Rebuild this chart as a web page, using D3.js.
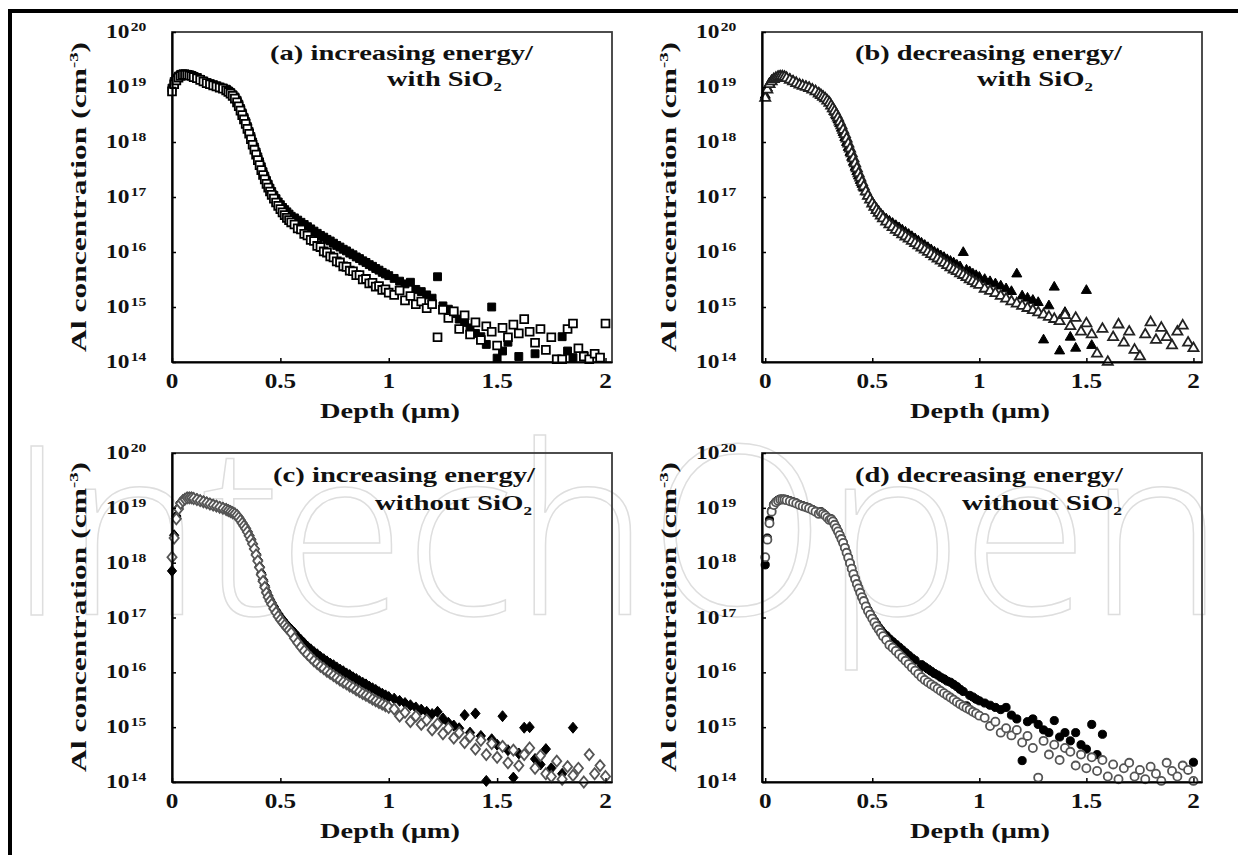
<!DOCTYPE html>
<html><head><meta charset="utf-8">
<script src="https://cdn.jsdelivr.net/npm/d3@7"></script>
<style>
body{margin:0;background:#fff}
svg{display:block}
text{font-family:"Liberation Serif","DejaVu Serif",serif;font-weight:bold;fill:#111}
</style>
</head><body>
<svg id="chart" width="1238" height="855"></svg>
<script>
// ---------- data (depth in µm, concentration as log10 exponent) ----------
const depth = [0,0.01,0.02,0.03,0.04,0.05,0.06,0.07,0.08,0.09,0.1,
 0.115,0.13,0.145,0.16,0.175,0.19,0.205,0.22,0.235,0.25,
 0.26,0.27,0.28,0.29,0.3,
 0.308,0.316,0.324,0.332,0.34,0.348,0.356,0.364,0.372,0.38,0.388,0.396,0.404,0.412,0.42,0.428,0.436,0.444,0.452,0.46,
 0.47,0.48,0.49,0.5,0.51,0.52,0.53,0.54,0.55,
 0.565,0.58,0.595,0.61,0.625,0.64,0.655,0.67,0.685,0.7,0.715,0.73,0.745,0.76,0.775,0.79,0.805,0.82,0.835,0.85,0.865,0.88,0.895,0.91,0.925,0.94,0.955,0.97,0.985,1.0,
 1.025,1.05,1.075,1.1,1.125,1.15,1.175,1.2,1.225,1.25,1.275,1.3,1.325,1.35,1.375,1.4,1.425,1.45,1.475,1.5,
 1.525,1.55,1.575,1.6,1.625,1.65,1.675,1.7,1.725,1.75,1.775,1.8,1.825,1.85,1.875,1.9,1.925,1.95,1.975,2.0];

const aFilled = [18.98,19.1,19.16,19.2,19.23,19.24,19.24,19.23,19.22,19.21,19.19,
 19.17,19.14,19.11,19.08,19.06,19.04,19.02,19.0,18.98,18.96,
 18.93,18.9,18.86,18.82,18.76,
 18.69,18.61,18.53,18.45,18.37,18.28,18.19,18.1,18.0,17.91,17.82,17.73,17.64,17.55,17.46,17.38,17.3,17.23,17.16,17.1,
 17.03,16.97,16.91,16.86,16.81,16.77,16.73,16.69,16.65,
 16.62,16.58,16.54,16.5,16.46,16.42,16.38,16.34,16.3,16.27,16.23,16.2,16.16,16.12,16.09,16.05,16.02,15.98,15.95,15.91,15.88,15.84,15.81,15.77,15.74,15.7,15.67,15.63,15.6,15.57,
 15.52,15.47,15.42,15.45,15.32,15.28,15.22,15.16,15.55,15.02,14.96,14.88,14.78,14.72,14.62,14.52,14.46,14.32,15.0,14.07,
 14.2,14.36,null,14.1,null,null,14.15,null,null,null,14.05,14.46,14.2,14.08,null,14.12,null,null,null,null];
const aOpen = [18.92,19.05,19.12,19.17,19.2,19.22,19.22,19.22,19.21,19.2,19.18,
 19.16,19.13,19.1,19.07,19.05,19.03,19.01,18.99,18.97,18.94,
 18.91,18.88,18.84,18.79,18.72,
 18.65,18.57,18.49,18.41,18.33,18.24,18.15,18.05,17.95,17.86,17.77,17.67,17.58,17.49,17.4,17.32,17.24,17.17,17.1,17.04,
 16.97,16.9,16.84,16.78,16.72,16.67,16.62,16.58,16.54,
 16.5,16.43,16.41,16.33,16.3,16.22,16.2,16.11,16.09,16.01,15.99,15.92,15.9,15.83,15.81,15.74,15.73,15.66,15.65,15.58,15.58,15.5,15.51,15.43,15.44,15.37,15.38,15.31,15.32,15.26,
 15.22,15.3,15.12,15.2,15.05,15.1,14.98,15.05,14.45,14.95,14.8,14.92,14.6,14.85,14.5,14.72,14.4,14.65,14.55,14.3,
 14.62,14.45,14.68,14.52,14.78,14.55,14.35,14.6,14.22,14.45,14.05,14.05,14.6,14.7,14.25,14.1,14.05,14.15,14.08,14.7];

const bFilled = [18.85,18.98,19.07,19.12,19.15,19.17,19.19,19.2,19.2,19.19,19.17,
 19.14,19.11,19.08,19.05,19.03,19.01,18.99,18.96,18.93,18.89,
 18.86,18.83,18.8,18.76,18.72,
 18.66,18.6,18.54,18.47,18.4,18.33,18.25,18.17,18.08,17.99,17.9,17.81,17.72,17.63,17.54,17.46,17.38,17.3,17.23,17.16,
 17.09,17.02,16.96,16.9,16.84,16.79,16.74,16.69,16.65,
 16.6,16.56,16.52,16.48,16.44,16.4,16.36,16.32,16.28,16.24,16.2,16.16,16.12,16.08,16.04,16.0,15.97,15.93,15.9,15.86,15.83,15.8,15.76,15.73,15.99,15.67,15.64,15.6,15.57,15.54,
 15.5,15.46,15.42,15.38,15.33,15.28,15.6,15.2,15.16,15.12,15.08,14.4,15.02,15.36,14.2,14.9,14.45,14.25,null,15.3,
 14.3,null,null,null,null,null,null,null,null,null,null,null,null,null,null,null,null,null,null,null];
const bOpen = [18.8,18.95,19.05,19.1,19.14,19.16,19.18,19.19,19.19,19.18,19.16,
 19.13,19.1,19.07,19.04,19.02,19.0,18.98,18.95,18.92,18.88,
 18.85,18.82,18.79,18.75,18.71,
 18.66,18.61,18.56,18.5,18.44,18.37,18.3,18.22,18.14,18.06,17.97,17.88,17.79,17.7,17.61,17.52,17.43,17.35,17.27,17.19,
 17.1,17.02,16.95,16.88,16.82,16.76,16.71,16.66,16.61,
 16.55,16.5,16.45,16.4,16.36,16.32,16.28,16.24,16.2,16.16,16.12,16.08,16.04,16.0,15.96,15.92,15.88,15.84,15.8,15.76,15.72,15.68,15.65,15.61,15.58,15.54,15.5,15.47,15.43,15.4,
 15.33,15.29,15.25,15.2,15.15,15.1,15.06,15.02,14.98,14.94,14.9,14.86,14.82,14.78,14.74,14.85,14.65,14.8,14.55,14.7,
 14.5,14.15,14.6,14.0,14.45,14.68,14.35,14.55,14.22,14.1,14.5,14.72,14.4,14.62,14.45,14.3,14.55,14.66,14.35,14.25];

const cFilled = [17.85,18.5,18.85,19.0,19.1,19.14,19.17,19.19,19.19,19.19,19.18,
 19.16,19.14,19.12,19.1,19.08,19.06,19.04,19.02,19.0,18.98,
 18.96,18.94,18.92,18.9,18.87,
 18.83,18.78,18.73,18.68,18.63,18.57,18.5,18.43,18.35,18.26,18.16,18.05,17.93,17.81,17.69,17.58,17.48,17.4,17.33,17.27,
 17.2,17.13,17.07,17.01,16.96,16.91,16.86,16.82,16.78,
 16.72,16.65,16.59,16.53,16.47,16.42,16.37,16.33,16.28,16.24,16.2,16.16,16.13,16.09,16.05,16.02,15.98,15.95,15.91,15.88,15.84,15.81,15.78,15.74,15.71,15.68,15.64,15.61,15.58,15.55,
 15.52,15.48,15.44,15.4,15.36,15.32,15.28,15.24,15.28,15.16,15.08,15.03,14.98,15.22,14.9,15.25,14.84,14.02,14.78,14.68,
 15.2,14.58,14.08,14.52,14.99,15.0,14.42,14.32,14.6,14.25,null,14.15,null,14.99,null,null,null,null,null,null];
const cOpen = [18.1,18.45,18.8,18.98,19.08,19.13,19.16,19.18,19.18,19.18,19.17,
 19.15,19.13,19.11,19.09,19.07,19.05,19.03,19.01,18.99,18.97,
 18.95,18.93,18.91,18.89,18.86,
 18.82,18.77,18.72,18.67,18.62,18.56,18.49,18.42,18.34,18.25,18.14,18.03,17.91,17.78,17.66,17.55,17.45,17.37,17.3,17.24,
 17.16,17.09,17.02,16.96,16.91,16.86,16.81,16.77,16.72,
 16.62,16.54,16.46,16.39,16.33,16.27,16.21,16.16,16.11,16.07,16.02,15.98,15.94,15.9,15.86,15.82,15.79,15.75,15.72,15.68,15.65,15.61,15.58,15.55,15.51,15.48,15.45,15.42,15.39,15.36,
 15.33,15.2,15.27,15.1,15.2,15.05,15.13,14.95,15.06,14.88,14.98,14.8,14.9,14.72,14.83,14.6,14.76,14.5,14.7,14.45,
 14.65,14.35,14.58,14.3,14.5,14.62,14.25,14.48,14.15,14.1,14.38,14.05,14.28,14.12,14.25,14.0,14.5,14.15,14.3,14.1];

const dFilled = [17.96,18.45,18.78,18.95,19.06,19.11,19.14,19.16,19.16,19.16,19.15,
 19.13,19.11,19.09,19.06,19.04,19.02,19.0,18.97,18.94,18.9,
 18.93,18.9,18.87,18.83,18.79,
 18.8,18.76,18.7,18.64,18.58,18.51,18.44,18.37,18.28,18.19,18.1,18.0,17.9,17.8,17.71,17.62,17.54,17.46,17.38,17.31,
 17.22,17.14,17.07,17.0,16.94,16.88,16.82,16.77,16.72,
 16.67,16.61,16.56,16.51,16.46,16.41,16.36,16.31,16.26,16.22,16.0,16.14,16.1,16.06,16.02,15.98,15.95,15.91,15.88,15.84,15.82,15.78,15.74,15.69,15.65,15.39,15.58,15.55,15.51,15.48,
 15.44,15.4,15.36,15.32,15.36,15.22,15.15,14.39,15.1,15.15,15.05,14.95,14.9,15.12,14.82,14.9,14.75,14.9,14.68,14.6,
 15.05,14.5,14.87,null,null,null,null,null,null,null,null,null,null,null,null,null,null,null,null,14.36];
const dOpen = [18.1,18.42,18.72,18.93,19.05,19.1,19.13,19.15,19.15,19.15,19.14,
 19.12,19.1,19.08,19.05,19.03,19.01,18.99,18.96,18.93,18.89,
 18.92,18.89,18.86,18.82,18.78,
 18.79,18.75,18.69,18.63,18.57,18.5,18.43,18.36,18.27,18.18,18.09,17.99,17.89,17.79,17.7,17.61,17.53,17.45,17.37,17.3,
 17.2,17.12,17.05,16.98,16.91,16.84,16.78,16.72,16.66,
 16.59,16.5,16.45,16.39,16.33,16.27,16.21,16.15,16.09,16.03,15.97,15.91,15.86,15.82,15.78,15.74,15.7,15.66,15.62,15.58,15.54,15.5,15.46,15.42,15.38,15.35,15.32,15.28,15.25,15.21,
 15.17,15.02,15.1,14.9,14.98,14.85,14.95,14.72,14.84,14.62,14.08,14.75,14.5,14.68,14.4,14.62,14.55,14.3,14.5,14.25,
 14.45,14.2,14.4,14.1,14.32,14.05,14.25,14.35,14.1,14.22,14.05,14.28,14.15,14.02,14.35,14.2,14.1,14.3,14.22,14.02];

const exponents = [20,19,18,17,16,15,14];
const xTicks = [0,0.5,1,1.5,2];
const xTickLabels = ["0","0.5","1","1.5","2"];
const titlesLine1 = ["(a) increasing energy/","(b) decreasing energy/","(c) increasing energy/","(d) decreasing energy/"];
const titlesLine2 = ["with SiO","with SiO","without SiO","without SiO"];
const xTitle = "Depth (μm)";
const yTitle = "Al concentration (cm";
const watermark = "IntechOpen";

// ---------- layout ----------
const svg = d3.select("#chart");

// faint watermark behind the panels
svg.append("g").attr("transform","translate(8,615) scale(1,1.08)")
  .append("text").attr("x",0).attr("y",0)
  .attr("textLength",1216).attr("lengthAdjust","spacingAndGlyphs")
  .style("font-family","'Open Sans',sans-serif").style("font-weight","300")
  .style("font-size","218px").style("fill","none").style("stroke","#dedede").style("stroke-width","1.4")
  .text(watermark);

// outer frame
svg.append("rect").attr("x",10).attr("y",11).attr("width",1260).attr("height",880)
  .attr("fill","none").attr("stroke","#000").attr("stroke-width",4);

const diamond = {draw(ctx){ ctx.moveTo(0,-5.5); ctx.lineTo(4.6,0); ctx.lineTo(0,5.5); ctx.lineTo(-4.6,0); ctx.closePath(); }};

const panels = [
 {x0:172,x1:612,y0:32,y1:362,xd:[0,2.03],f:aFilled,o:aOpen,sym:d3.symbolSquare,size:62,os:"#000",
  t1x:98,t1w:263,t2x:215,t2w:115,t1y:28,t2y:54,yl:197},
 {x0:762,x1:1202,y0:32,y1:362,xd:[-0.015,2.04],f:bFilled,o:bOpen,sym:d3.symbolTriangle,size:44,os:"#222",
  t1x:93,t1w:267,t2x:215,t2w:116,t1y:28,t2y:54,yl:197},
 {x0:172,x1:612,y0:453,y1:782,xd:[0,2.03],f:cFilled,o:cOpen,sym:diamond,size:40,os:"#555",
  t1x:101,t1w:262,t2x:203,t2w:157,t1y:29,t2y:57,yl:617},
 {x0:762,x1:1202,y0:453,y1:782,xd:[-0.015,2.04],f:dFilled,o:dOpen,sym:d3.symbolCircle,size:52,os:"#555",
  t1x:93,t1w:268,t2x:200,t2w:160,t1y:29,t2y:57,yl:617}
];

panels.forEach((p,i)=>{
  const x = d3.scaleLinear().domain(p.xd).range([p.x0,p.x1]);
  const y = d3.scaleLog().domain([1e14,1e20]).range([p.y1,p.y0]);
  const g = svg.append("g");

  // box
  g.append("rect").attr("x",p.x0).attr("y",p.y0).attr("width",p.x1-p.x0).attr("height",p.y1-p.y0)
    .attr("fill","none").attr("stroke","#3a3a3a").attr("stroke-width",1.8);

  // data
  const sym = d3.symbol().type(p.sym).size(p.size);
  const pts = s => depth.map((d,k)=>({d, v:s[k]})).filter(e=>e.v!=null);
  g.append("g").selectAll("path").data(pts(p.f)).join("path")
    .attr("d",sym).attr("transform",e=>`translate(${x(e.d)},${y(Math.pow(10,e.v))})`)
    .attr("fill","#000").attr("stroke","#000").attr("stroke-width",1);
  g.append("g").selectAll("path").data(pts(p.o)).join("path")
    .attr("d",sym).attr("transform",e=>`translate(${x(e.d)},${y(Math.pow(10,e.v))})`)
    .attr("fill","#fff").attr("stroke",p.os).attr("stroke-width",1.8);

  // axes
  const ax = g.append("g").attr("transform",`translate(0,${p.y1})`)
    .call(d3.axisBottom(x).tickValues(xTicks).tickSize(-4).tickSizeOuter(0).tickFormat(""));
  const ay = g.append("g").attr("transform",`translate(${p.x0},0)`)
    .call(d3.axisLeft(y).tickValues(exponents.map(e=>Math.pow(10,e))).tickSize(-4).tickSizeOuter(0).tickFormat(""));
  [ax,ay].forEach(a=>{
    a.select(".domain").attr("stroke","#000").attr("stroke-width",2.2);
    a.selectAll(".tick line").attr("stroke","#000").attr("stroke-width",1.5);
  });

  // x tick labels
  xTicks.forEach((t,k)=>{
    g.append("g").attr("transform",`translate(${x(t)},${p.y1+26}) scale(1.2,1)`)
     .append("text").attr("text-anchor","middle").style("font-size","21px").text(xTickLabels[k]);
  });
  // y tick labels 10^n (one text each)
  exponents.forEach(e=>{
    const tx = g.append("g").attr("transform",`translate(${p.x0-66},${y(Math.pow(10,e))}) scale(1.3,1)`)
      .append("text").attr("x",0).attr("y",6).style("font-size","18px");
    tx.append("tspan").text("10");
    tx.append("tspan").attr("dx",1).attr("dy",-7).style("font-size","12px").text(e);
  });

  // axis titles
  g.append("text").attr("x",(p.x0+p.x1)/2 - 2).attr("y",p.y1+56).attr("text-anchor","middle")
    .attr("textLength",140).attr("lengthAdjust","spacingAndGlyphs")
    .style("font-size","22px").text(xTitle);
  const yt = g.append("text").attr("transform",`translate(${p.x0-86},${p.yl}) rotate(-90)`)
    .attr("text-anchor","middle").attr("textLength",310).attr("lengthAdjust","spacingAndGlyphs")
    .style("font-size","22px");
  yt.append("tspan").text(yTitle);
  yt.append("tspan").attr("dy",-8).style("font-size","13px").text("-3");
  yt.append("tspan").attr("dy",8).text(")");

  // panel titles
  g.append("text").attr("x",p.x0+p.t1x).attr("y",p.y0+p.t1y)
    .attr("textLength",p.t1w).attr("lengthAdjust","spacingAndGlyphs")
    .style("font-size","22px").text(titlesLine1[i]);
  const t2 = g.append("text").attr("x",p.x0+p.t2x).attr("y",p.y0+p.t2y)
    .attr("textLength",p.t2w).attr("lengthAdjust","spacingAndGlyphs").style("font-size","22px");
  t2.append("tspan").text(titlesLine2[i]);
  t2.append("tspan").attr("dy",5).style("font-size","13px").text("2");
});
</script>
</body></html>
